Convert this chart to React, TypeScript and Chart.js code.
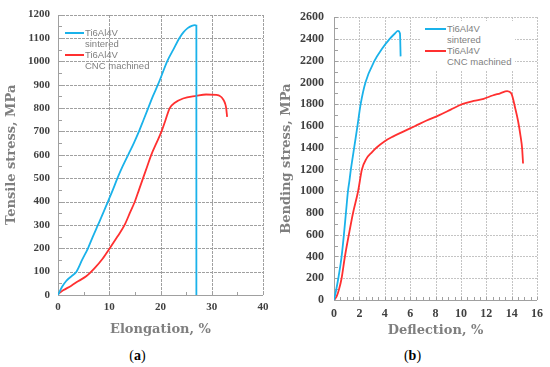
import React, { useEffect, useRef } from "react";
import { Chart, registerables } from "chart.js";

Chart.register(...registerables);

// ---------- Data: (a) tensile test ----------
const sinteredElongation = [0, 0.8, 1.6, 2.6, 3.6, 4.7, 5.85, 6.8, 7.8, 8.8, 9.75, 10.7, 11.6, 12.6, 13.7, 14.8, 15.8, 16.7, 17.6, 18.5, 19.5, 20.4, 21.3, 22.5, 23.7, 24.5, 25.3, 26.1, 26.7, 27.0, 27.0];
const sinteredTensile = [0, 35, 60, 80, 100, 150, 200, 250, 300, 350, 400, 450, 500, 550, 600, 650, 700, 750, 800, 850, 900, 950, 1000, 1050, 1100, 1125, 1142, 1152, 1155, 1153, 0];

const cncElongation = [0, 1, 2.6, 4, 5.5, 7.15, 8.7, 10.1, 11.6, 13, 14, 15, 15.8, 16.6, 17.4, 18.2, 19.2, 20.2, 21.0, 21.8, 22.8, 24.4, 27, 28.9, 30.9, 31.7, 32.2, 32.6, 32.8, 33.0];
const cncTensile = [5, 20, 40, 60, 80, 115, 155, 200, 250, 300, 350, 400, 450, 500, 550, 600, 650, 700, 750, 800, 823, 841, 852, 858, 856, 850, 838, 820, 802, 762];

// ---------- Data: (b) bending test ----------
const sinteredDeflection = [0, 0.15, 0.34, 0.6, 0.78, 0.94, 1.1, 1.22, 1.33, 1.59, 1.85, 2.1, 2.48, 3.2, 3.73, 4.39, 4.8, 5.04, 5.2, 5.25];
const sinteredBending = [0, 80, 200, 400, 600, 800, 1000, 1100, 1200, 1400, 1600, 1800, 2000, 2200, 2300, 2400, 2450, 2475, 2450, 2240];

const cncDeflection = [0, 0.2, 0.4, 0.6, 0.86, 1.17, 1.5, 1.9, 2.2, 2.56, 3.0, 3.34, 4.0, 4.6, 5.5, 6.4, 7.3, 8.3, 9.2, 10.1, 11.0, 11.8, 12.5, 13.1, 13.65, 13.97, 14.3, 14.5, 14.7, 14.83, 14.9];
const cncBending = [0, 30, 100, 200, 400, 600, 800, 1000, 1200, 1300, 1360, 1400, 1460, 1500, 1550, 1600, 1650, 1700, 1750, 1800, 1830, 1850, 1880, 1900, 1920, 1900, 1755, 1650, 1510, 1390, 1255];

const legendLines = [
  ["Ti6Al4V", "sintered"],
  ["Ti6Al4V", "CNC machined"],
];

const BLUE = "#1ab2ea";
const RED = "#ff3030";

const toPoints = (xs: number[], ys: number[]) => xs.map((x, i) => ({ x, y: ys[i] }));

// Dashed grid lines and short inner minor ticks, positioned through the chart's own scales.
const gridAndMinor = {
  id: "gridAndMinor",
  beforeDatasetsDraw(chart: any, _args: any, opts: any) {
    const { ctx, chartArea } = chart;
    const xs = chart.scales.x;
    const ys = chart.scales.y;
    const left = Math.round(chartArea.left);
    const right = Math.round(chartArea.right);
    const top = Math.round(chartArea.top);
    const bottom = Math.round(chartArea.bottom);
    ctx.save();
    const dash: number[] = opts.dash;
    ctx.fillStyle = opts.gridColor;
    const period = dash[0] + dash[1];
    for (let v = xs.min + xs.options.ticks.stepSize; v <= xs.max + 1e-9; v += xs.options.ticks.stepSize) {
      const px = Math.round(xs.getPixelForValue(v));
      for (let y = top; y < bottom; y += period) {
        ctx.fillRect(px, y, 1, Math.min(dash[0], bottom - y));
      }
    }
    for (let v = ys.min + ys.options.ticks.stepSize; v <= ys.max + 1e-9; v += ys.options.ticks.stepSize) {
      const py = Math.round(ys.getPixelForValue(v));
      for (let x = left; x < right; x += period) {
        ctx.fillRect(x, py, Math.min(dash[0], right - x), 1);
      }
    }
    // axes lines
    ctx.fillStyle = opts.axisColor;
    ctx.fillRect(left, top, 1, bottom - top + 1);
    ctx.fillRect(left, bottom, right - left, 1);
    // minor ticks
    const len = opts.len;
    for (let v = xs.min; v <= xs.max + 1e-9; v += opts.xStep) {
      const px = Math.round(xs.getPixelForValue(v));
      ctx.fillRect(px, bottom - len, 1, len);
    }
    for (let v = ys.min; v <= ys.max + 1e-9; v += opts.yStep) {
      const py = Math.round(ys.getPixelForValue(v));
      ctx.fillRect(left + 1, py, len, 1);
    }
    ctx.restore();
  },
};

type PanelProps = {
  left: number;
  datasets: any[];
  xMax: number;
  xStep: number;
  yMax: number;
  yStep: number;
  xTitle: string;
  yTitle: string;
  yAxisWidth: number;
  xAxisHeight: number;
  tickFont: number;
  xTickPad: number;
  yTickPad: number;
  xTitlePad: number;
  minorX: number;
  minorY: number;
  gridColor: string;
  dash: number[];
};

function Panel(p: PanelProps) {
  const ref = useRef<HTMLCanvasElement | null>(null);
  useEffect(() => {
    if (!ref.current) return;
    const chart = new Chart(ref.current, {
      type: "scatter",
      data: { datasets: p.datasets },
      plugins: [gridAndMinor],
      options: {
        animation: false,
        responsive: false,
        layout: { padding: { top: 13, right: 12, left: 0, bottom: 0 } },
        plugins: {
          legend: { display: false },
          tooltip: { enabled: false },
          gridAndMinor: {
            xStep: p.minorX,
            yStep: p.minorY,
            len: 3,
            gridColor: p.gridColor,
            dash: p.dash,
            axisColor: "#a0a0a0",
          },
        } as any,
        scales: {
          x: {
            type: "linear",
            min: 0,
            max: p.xMax,
            afterFit: (s: any) => { s.height = p.xAxisHeight; },
            ticks: {
              stepSize: p.xStep,
              padding: p.xTickPad,
              color: "#404040",
              callback: (v: any) => String(v),
              font: { family: "'Liberation Serif', serif", size: p.tickFont, weight: "bold" },
            },
            grid: { display: false, drawTicks: false },
            border: { display: false },
            title: {
              display: true,
              text: p.xTitle,
              color: "#7f7f7f",
              padding: { top: 0, bottom: p.xTitlePad },
              font: { family: "'DejaVu Serif', serif", size: 13, weight: "bold" },
            },
          },
          y: {
            type: "linear",
            min: 0,
            max: p.yMax,
            afterFit: (s: any) => { s.width = p.yAxisWidth; },
            ticks: {
              stepSize: p.yStep,
              padding: p.yTickPad,
              color: "#404040",
              callback: (v: any) => String(v),
              font: { family: "'Liberation Serif', serif", size: p.tickFont, weight: "bold" },
            },
            grid: { display: false, drawTicks: false },
            border: { display: false },
            title: {
              display: true,
              text: p.yTitle,
              color: "#7f7f7f",
              padding: { top: 4, bottom: 0 },
              font: { family: "'DejaVu Serif', serif", size: 13, weight: "bold" },
            },
          },
        },
      } as any,
    });
    return () => chart.destroy();
  }, []);
  return (
    <canvas
      ref={ref}
      width={275}
      height={340}
      style={{ position: "absolute", left: p.left, top: 0, width: 275, height: 340, display: "block" }}
    />
  );
}

function Legend({ left, top, lineW, bg }: { left: number; top: number; lineW: number; bg: boolean }) {
  const colors = [BLUE, RED];
  return (
    <div
      style={{
        position: "absolute",
        left,
        top,
        background: bg ? "#ffffff" : "transparent",
        padding: bg ? "2px 4px 3px 4px" : 0,
        fontFamily: "'Liberation Sans', Arial, sans-serif",
        fontSize: 9.5,
        color: "#7f7f7f",
        lineHeight: "11px",
      }}
    >
      {legendLines.map((lines, i) => (
        <div key={i} style={{ position: "relative", paddingLeft: lineW + 1 }}>
          <div
            style={{
              position: "absolute",
              left: 0,
              top: 4.5,
              width: lineW,
              height: 2,
              background: colors[i],
            }}
          />
          {lines.map((t, j) => (
            <div key={j} style={{ whiteSpace: "nowrap" }}>{t}</div>
          ))}
        </div>
      ))}
    </div>
  );
}

export default function App() {
  const lineStyle = (c: string) => ({
    showLine: true,
    borderColor: c,
    backgroundColor: c,
    borderWidth: 1.8,
    pointRadius: 0,
    cubicInterpolationMode: "monotone",
    fill: false,
  });
  const dsA = [
    { label: "Ti6Al4V sintered", data: toPoints(sinteredElongation, sinteredTensile), ...lineStyle(BLUE) },
    { label: "Ti6Al4V CNC machined", data: toPoints(cncElongation, cncTensile), ...lineStyle(RED) },
  ];
  const dsB = [
    { label: "Ti6Al4V sintered", data: toPoints(sinteredDeflection, sinteredBending), ...lineStyle(BLUE) },
    { label: "Ti6Al4V CNC machined", data: toPoints(cncDeflection, cncBending), ...lineStyle(RED) },
  ];
  return (
    <div style={{ position: "fixed", left: 0, top: 0, width: 550, height: 367, background: "#fff", overflow: "hidden" }}>
      <Panel
        left={0}
        datasets={dsA}
        xMax={40}
        xStep={10}
        yMax={1200}
        yStep={100}
        xTitle="Elongation, %"
        yTitle="Tensile stress, MPa"
        yAxisWidth={58}
        xAxisHeight={45}
        tickFont={11}
        xTickPad={6}
        yTickPad={8}
        xTitlePad={3}
        minorX={5}
        minorY={50}
        gridColor="#a0a0a0"
        dash={[3, 1]}
      />
      <Panel
        left={275}
        datasets={dsB}
        xMax={16}
        xStep={2}
        yMax={2600}
        yStep={200}
        xTitle="Deflection, %"
        yTitle="Bending stress, MPa"
        yAxisWidth={59}
        xAxisHeight={40}
        tickFont={12}
        xTickPad={7}
        yTickPad={10}
        xTitlePad={2}
        minorX={0.5}
        minorY={100}
        gridColor="#c4c4c4"
        dash={[2, 1]}
      />
      <Legend left={65} top={27} lineW={19} bg={false} />
      <Legend left={421} top={21} lineW={21} bg={true} />
      <div style={{ position: "absolute", left: 0, width: 275, top: 348, textAlign: "center", fontFamily: "'Liberation Serif', serif", fontSize: 14, color: "#000" }}>
        (<b>a</b>)
      </div>
      <div style={{ position: "absolute", left: 275, width: 275, top: 348, textAlign: "center", fontFamily: "'Liberation Serif', serif", fontSize: 14, color: "#000" }}>
        (<b>b</b>)
      </div>
    </div>
  );
}
